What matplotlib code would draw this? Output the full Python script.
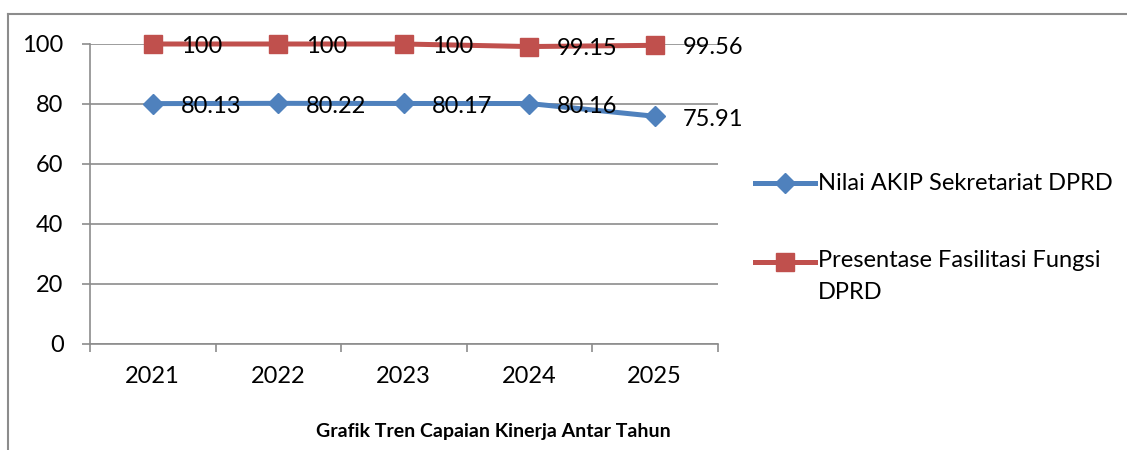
import matplotlib
matplotlib.use("Agg")
import matplotlib.pyplot as plt
from matplotlib.lines import Line2D

years = ["2021", "2022", "2023", "2024", "2025"]
akip = [80.13, 80.22, 80.17, 80.16, 75.91]
fasilitasi = [100, 100, 100, 99.15, 99.56]
akip_labels = ["80.13", "80.22", "80.17", "80.16", "75.91"]
fas_labels = ["100", "100", "100", "99.15", "99.56"]
series_names = ["Nilai AKIP Sekretariat DPRD", "Presentase Fasilitasi Fungsi\nDPRD"]
title = "Grafik Tren Capaian Kinerja Antar Tahun"

BLUE = "#4F81BD"
RED = "#C0504D"
GRID = "#8C8C8C"

plt.rcParams["font.family"] = ["Lato", "DejaVu Sans"]
FS = 17
LEG_FS = 17

W, H = 1127, 450
fig = plt.figure(figsize=(W / 100, H / 100), dpi=100)


def fx(px):
    return px / W


def fy(py):
    return 1 - py / H


ax = fig.add_axes([fx(90), fy(344), fx(717.5) - fx(90), fy(44) - fy(344)])

x = list(range(len(years)))
ax.plot(x, akip, color=BLUE, lw=3.6, marker="D", ms=10.5, mfc=BLUE, mec=BLUE,
        clip_on=False, zorder=3)
ax.plot(x, fasilitasi, color=RED, lw=3.6, marker="s", ms=13.5, mfc=RED, mec=RED,
        clip_on=False, zorder=3)

for xi, v, lab in zip(x, akip, akip_labels):
    ax.annotate(lab, (xi, v), xytext=(20, -2), textcoords="offset points",
                ha="left", va="center", fontsize=FS, zorder=4)
for xi, v, lab in zip(x, fasilitasi, fas_labels):
    ax.annotate(lab, (xi, v), xytext=(20, -1.5), textcoords="offset points",
                ha="left", va="center", fontsize=FS, zorder=4)

ax.set_xlim(-0.5, len(years) - 0.5)
ax.set_ylim(0, 100)
ax.set_yticks([0, 20, 40, 60, 80, 100])
ax.yaxis.grid(True, color=GRID, lw=1.2)
ax.set_axisbelow(True)

# category boundaries carry the tick marks, centres carry the labels
ax.set_xticks([i - 0.5 for i in range(len(years) + 1)])
ax.set_xticklabels([])
ax.set_xticks(x, minor=True)
ax.set_xticklabels(years, minor=True)
ax.tick_params(axis="x", which="major", length=6, width=1.2, color=GRID, direction="out")
ax.tick_params(axis="x", which="minor", length=0, pad=16, labelsize=FS)
ax.tick_params(axis="y", length=6, width=1.2, color=GRID, pad=13, labelsize=FS)

for side in ["top", "right"]:
    ax.spines[side].set_visible(False)
for side in ["left", "bottom"]:
    ax.spines[side].set_color(GRID)
    ax.spines[side].set_linewidth(1.2)

# legend drawn by hand so the handle sits on the first text line
leg_items = [(BLUE, "D", 10.5, 183), (RED, "s", 13.5, 262)]
for (col, mk, ms, py), name in zip(leg_items, series_names):
    fig.add_artist(Line2D([fx(755), fx(815)], [fy(py), fy(py)], color=col, lw=3.6))
    fig.add_artist(Line2D([fx(785)], [fy(py)], color=col, marker=mk, ms=ms, mfc=col, mec=col))
    if "\n" in name:
        fig.text(fx(818), fy(py - 12), name, ha="left", va="top",
                 fontsize=LEG_FS, linespacing=1.65)
    else:
        fig.text(fx(818), fy(py), name, ha="left", va="center", fontsize=LEG_FS)

fig.text(fx(493), fy(431), title, ha="center", va="center", fontsize=14,
         fontweight="bold")

# outer chart frame (cut off at right and bottom)
fig.add_artist(Line2D([fx(8), 1], [fy(14), fy(14)], color=GRID, lw=1.5))
fig.add_artist(Line2D([fx(8), fx(8)], [fy(14), 0], color=GRID, lw=1.5))

fig.savefig("out.png", dpi=100)
